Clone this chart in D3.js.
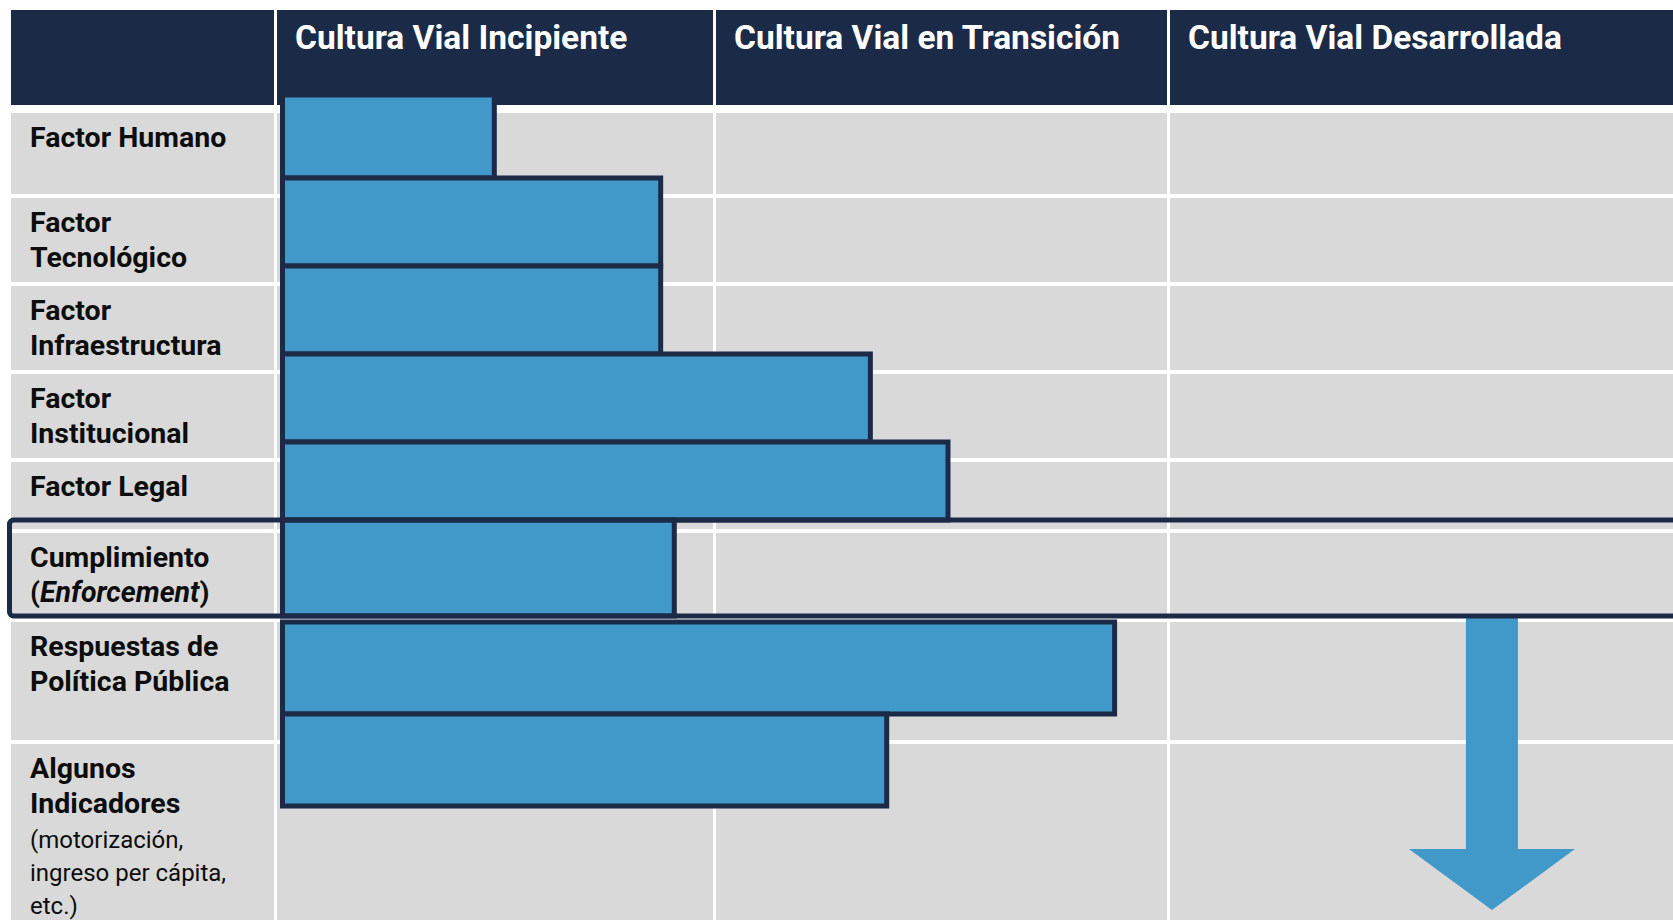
<!DOCTYPE html>
<html>
<head>
<meta charset="utf-8">
<script src="https://cdn.jsdelivr.net/npm/d3@7.9.0/dist/d3.min.js"></script>
<style>
  html, body { margin: 0; padding: 0; background: #fff; overflow: hidden; }
  svg { display: block; font-family: Roboto, "Open Sans", sans-serif; }
</style>
</head>
<body>
<svg id="chart" width="1673" height="920"></svg>
<script>
// stages of road culture (columns)
const stages = ['Cultura Vial Incipiente', 'Cultura Vial en Transición', 'Cultura Vial Desarrollada'];

// factors (rows); "\n" breaks a line, _x_ is italic
const factors = [
  'Factor Humano',
  'Factor\nTecnológico',
  'Factor\nInfraestructura',
  'Factor\nInstitucional',
  'Factor Legal',
  'Cumplimiento\n(_Enforcement_)',
  'Respuestas de\nPolítica Pública',
  'Algunos\nIndicadores'
];
const factorNotes = ['', '', '', '', '', '', '', '(motorización,\ningreso per cápita,\netc.)'];

// how far each factor reaches along the stages (0 = start of Incipiente, 3 = end of Desarrollada)
const levels = [0.495, 0.874, 0.874, 1.340, 1.511, 0.905, 1.878, 1.376];

const highlighted = 5;      // Cumplimiento is boxed
const arrowLevel = 2.64;    // downward arrow in Desarrollada

// layout
const width = 1673, height = 920;
const navy = '#1b2b47', blue = '#4099c9', cell = '#d9d9d9';
const headerTop = 10, headerBottom = 105, rowsTop = 113, gap = 4, colGap = 3;
const rowHeights = [81, 84, 84, 84, 67, 85, 118, 200];
const labelLeft = 11;

const svg = d3.select('#chart');

const x = d3.scaleLinear().domain([0, 1, 2, 3]).range([277, 716, 1170, 1673]);

const rowTops = rowHeights.map((h, i) => rowsTop + d3.sum(rowHeights.slice(0, i)) + i * gap);
const rows = factors.map((f, i) => ({ label: f, note: factorNotes[i], top: rowTops[i], bottom: rowTops[i] + rowHeights[i] }));

// table cells: one label column + stage columns
const colEdges = [[labelLeft, x(0) - colGap]].concat(stages.map((s, i) => [x(i), i === stages.length - 1 ? width + 5 : x(i + 1) - colGap]));

rows.forEach((r) => {
  svg.append('g').selectAll('rect')
    .data(colEdges)
    .join('rect')
    .attr('x', (d) => d[0])
    .attr('y', r.top)
    .attr('width', (d) => d[1] - d[0])
    .attr('height', r.bottom - r.top)
    .attr('fill', cell);
});

// header
svg.append('g').selectAll('rect')
  .data(colEdges)
  .join('rect')
  .attr('x', (d) => d[0])
  .attr('y', headerTop)
  .attr('width', (d) => d[1] - d[0])
  .attr('height', headerBottom - headerTop)
  .attr('fill', navy);

svg.append('g').selectAll('text')
  .data(stages)
  .join('text')
  .attr('x', (d, i) => x(i) + 18)
  .attr('y', 49)
  .attr('fill', '#fff')
  .attr('font-size', 33.5)
  .attr('font-weight', 700)
  .text((d) => d);

// bars: stacked one under another, the boxed row fills its box
const boxTop = rows[highlighted].top - 13;
const boxBottom = rows[highlighted].bottom - 2;
const inset = 16, maxBar = 92;
const bars = [];
rows.forEach((r, i) => {
  let top;
  if (i === 0) top = headerBottom - 10;
  else if (i - 1 === highlighted) top = r.top;
  else top = bars[i - 1].bottom;
  let bottom;
  if (i === highlighted) bottom = boxBottom;
  else if (i + 1 === highlighted) bottom = boxTop;
  else bottom = Math.min(r.bottom - inset, top + maxBar);
  bars.push({ top, bottom, level: levels[i] });
});

svg.append('g').selectAll('rect')
  .data(bars)
  .join('rect')
  .attr('x', x(0) + 5.5)
  .attr('y', (d) => d.top)
  .attr('width', (d) => x(d.level) - x(0) - 5.5)
  .attr('height', (d) => d.bottom - d.top)
  .attr('fill', blue)
  .attr('stroke', navy)
  .attr('stroke-width', 5);

// arrow
const ax = x(arrowLevel);
const arrowPath = d3.path();
arrowPath.moveTo(ax - 26, boxBottom);
arrowPath.lineTo(ax + 26, boxBottom);
arrowPath.lineTo(ax + 26, 849);
arrowPath.lineTo(ax + 83, 849);
arrowPath.lineTo(ax, 910);
arrowPath.lineTo(ax - 83, 849);
arrowPath.lineTo(ax - 26, 849);
arrowPath.closePath();
svg.append('path').attr('d', arrowPath.toString()).attr('fill', blue);

// box around the highlighted row
svg.append('rect')
  .attr('x', 9.5)
  .attr('y', boxTop)
  .attr('width', width + 20)
  .attr('height', boxBottom - boxTop)
  .attr('rx', 4)
  .attr('fill', 'none')
  .attr('stroke', navy)
  .attr('stroke-width', 5);

// row labels
rows.forEach((r) => {
  const t = svg.append('text')
    .attr('x', 30)
    .attr('y', r.top + 34)
    .attr('fill', '#0d0d0d');
  const lines = r.label.split('\n');
  lines.forEach((line, li) => {
    const parts = line.split('_');
    parts.forEach((p, pi) => {
      if (!p) return;
      const ts = t.append('tspan')
        .attr('font-size', 28.5)
        .attr('font-weight', 700)
        .attr('font-style', pi % 2 ? 'italic' : 'normal')
        .text(p);
      if (pi === 0 || (pi === 1 && !parts[0])) ts.attr('x', 30).attr('dy', li === 0 ? 0 : 35);
    });
  });
  if (r.note) {
    r.note.split('\n').forEach((line, li) => {
      t.append('tspan')
        .attr('x', 30)
        .attr('dy', li === 0 ? 35 : 33)
        .attr('font-size', 24)
        .text(line);
    });
  }
});
</script>
</body>
</html>
